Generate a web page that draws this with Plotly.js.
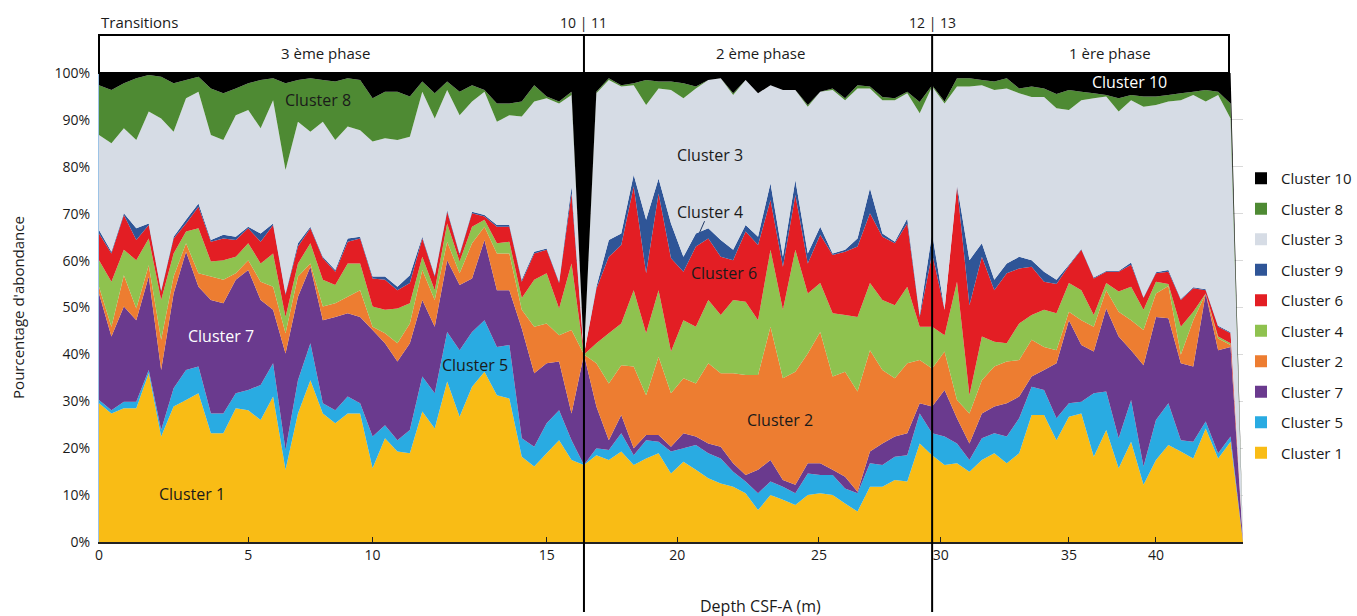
<!DOCTYPE html>
<html>
<head>
<meta charset="utf-8">
<script src="https://cdn.plot.ly/plotly-3.0.1.min.js"></script>
<style>
html,body{margin:0;padding:0;background:#ffffff;}
#chart{width:1357px;height:616px;}
</style>
</head>
<body>
<div id="chart"></div>
<script>
// ---- Data (percent per sample, samples in depth order) ----
const cluster1 = [29.6,27.4,28.5,28.5,36.0,22.5,28.9,30.3,31.7,23.2,
  23.2,28.5,28.1,26.0,31.0,15.4,27.4,34.5,27.4,25.3,
  27.4,27.4,15.7,22.1,19.3,18.9,27.8,24.2,34.2,26.7,
  33.1,36.3,31.3,30.6,18.2,16.1,18.9,21.7,17.5,16.4,
  18.5,17.5,19.3,16.4,17.8,18.9,14.6,17.1,15.4,13.6,
  12.5,11.8,10.4,6.8,10.0,9.0,7.9,10.0,10.4,10.0,
  8.2,6.5,11.8,11.8,13.2,12.9,21.0,18.5,16.4,16.8,
  15.0,17.5,18.9,16.8,18.9,27.1,27.1,21.7,26.7,27.4,
  18.2,23.9,15.7,21.4,12.2,17.5,20.7,19.3,17.8,24.2,
  17.8,21.4,0];
const cluster5 = [0.7,0.7,1.4,1.4,0.7,1.4,3.9,6.4,5.7,4.2,
  4.2,3.2,4.3,7.5,7.1,4.2,7.1,7.9,2.2,2.8,
  3.6,2.2,6.8,2.8,2.4,5.0,7.5,7.5,10.6,14.2,
  11.7,11.0,10.3,11.4,3.9,4.2,6.4,6.4,4.2,0,
  1.5,2.1,3.9,2.1,3.9,2.5,4.7,2.9,5.3,5.3,
  5.3,3.2,2.5,3.6,2.9,2.8,2.5,4.6,3.9,4.3,
  3.2,3.9,5.0,4.6,5.0,5.6,6.4,4.7,6.1,4.2,
  2.5,4.6,4.3,5.7,7.5,6.0,5.3,4.7,2.9,2.5,
  13.5,8.2,6.4,8.9,3.9,8.5,8.9,2.4,3.6,1.5,
  1.1,1.1,0];
const cluster7 = [22.7,15.7,20.3,17.4,19.9,12.8,20.2,25.2,17.0,24.2,
  23.5,24.2,25.6,18.1,11.4,20.6,17.8,16.3,17.7,19.9,
  17.8,18.4,22.7,17.5,16.8,18.5,16.3,14.2,15.3,13.9,
  11.4,17.1,12.1,11.7,23.4,15.7,12.8,10.4,5.7,23.6,
  8.9,2.1,3.9,1.5,1.1,1.4,1.0,3.2,1.8,2.1,
  2.5,1.8,1.4,5.0,4.6,1.4,1.8,2.2,2.5,1.1,
  2.5,0.3,2.5,4.6,4.3,4.7,2.2,5.7,9.9,5.4,
  3.5,5.3,5.7,7.1,4.6,2.2,4.3,11.7,17.7,12.1,
  8.9,17.7,21.7,10.6,21.6,22.0,18.1,16.4,16.0,27.3,
  22.0,19.1,0];
const cluster2 = [1.4,2.1,6.7,2.5,2.4,6.4,3.6,1.8,2.9,5.0,
  5.0,1.4,2.1,3.9,4.9,4.3,4.3,0.7,2.9,2.9,
  3.5,5.7,0.7,2.1,3.9,4.2,6.4,5.7,3.9,2.5,
  7.5,2.8,7.8,7.8,4.0,9.9,8.5,5.6,17.8,0,
  9.2,12.1,10.6,17.4,8.5,16.7,11.4,11.7,11.3,17.1,
  15.7,19.2,21.3,20.2,28.4,21.7,24.1,23.4,28.0,19.9,
  22.4,21.4,21.6,15.7,12.4,14.9,9.2,8.1,8.2,3.9,
  6.4,7.1,8.5,8.9,7.8,7.8,4.9,2.8,1.8,5.3,
  5.3,3.9,5.3,6.4,7.5,5.0,6.9,1.8,9.9,0,
  2.5,0.4,0];
const cluster4 = [5.7,9.6,5.4,10.3,5.7,8.5,4.9,2.5,9.6,3.2,
  4.2,3.5,3.6,3.9,7.1,3.5,2.8,4.3,5.7,3.9,
  7.1,5.7,4.3,5.0,7.4,4.3,2.8,2.1,3.9,2.5,
  3.5,1.5,2.2,2.5,2.5,10.0,10.7,5.7,14.2,0,
  4.3,10.7,8.9,16.3,13.2,14.2,8.9,12.4,12.1,13.5,
  12.4,15.6,15.6,11.7,16.4,14.6,26.0,12.8,10.4,13.5,
  12.1,15.9,14.3,14.9,15.6,16.3,7.1,8.9,3.5,25.2,
  3.9,9.3,5.3,3.9,7.8,5.3,7.9,7.9,6.1,6.4,
  2.5,1.5,4.3,7.1,4.3,2.5,0.4,6.0,1.8,0,
  0.4,0.4,0];
const cluster6 = [5.7,6.0,7.4,4.3,2.9,1.8,3.2,1.7,4.6,4.2,
  4.6,3.6,3.2,4.6,6.1,4.7,3.6,3.2,4.6,2.8,
  4.6,5.3,6.0,6.4,3.9,4.3,3.9,2.9,2.5,1.4,
  2.9,0.7,3.5,3.2,3.5,5.6,5.0,5.4,14.9,0,
  11.6,16.3,16.7,22.1,12.8,20.6,19.9,10.3,17.1,13.1,
  12.4,8.5,15.0,16.0,10.6,9.2,11.7,6.4,10.3,12.4,
  13.5,15.0,14.9,13.5,13.2,13.5,2.1,15.6,5.4,20.3,
  19.2,17.0,11.0,14.9,11.7,10.3,6.0,6.2,3.7,8.6,
  7.8,2.4,4.2,4.7,2.5,1.8,2.6,5.7,5.0,0.7,
  2.1,2.1,0];
const cluster9 = [0.7,0.4,0.4,2.5,0.3,0.3,0.4,0.8,0.7,0.4,
  0.8,0.7,0.3,1.8,0.3,0.3,0.7,0.3,0.3,0.4,
  0.7,0.4,0.4,0.7,0.7,1.7,0.4,0.3,0.4,0.3,
  0.3,0.3,0.4,0.4,0.4,0.4,0.3,0.3,1.5,0,
  0.4,3.6,2.5,2.5,11.4,3.2,7.4,3.2,2.8,2.2,
  3.6,2.2,1.4,1.8,3.6,2.1,3.2,2.1,1.7,0.3,
  0.4,1.7,5.3,0.7,0.3,1.1,0.4,4.3,0,0.3,
  9.6,2.9,2.2,2.1,2.5,1.4,2.1,0.9,0.2,0.2,
  0.2,0.2,0.2,0.5,0.2,0.2,0.4,0.2,0.2,0.2,
  0.2,0.2,0];
const cluster3 = [20.3,23.1,18.1,18.8,23.9,36.6,22.4,25.9,23.8,22.4,
  20.2,25.9,24.9,22.4,26.3,26.3,25.9,20.3,28.8,27.7,
  23.9,22.7,28.8,29.5,31.3,29.5,30.9,33.4,25.6,29.5,
  23.5,26.3,22.0,23.4,34.8,32.0,32.0,38.0,19.5,0,
  41.3,34.1,31.3,19.1,24.5,19.2,28.5,33.8,30.9,31.6,
  34.5,33.0,30.9,30.6,20.9,35.6,19.2,31.3,28.8,34.9,
  31.9,32.0,21.3,28.4,30.2,26.7,43.0,31.3,44.0,21.0,
  37.0,33.7,40.5,37.3,34.9,34.8,37.3,36.6,33.0,31.7,
  38.2,37.2,34.0,34.6,40.6,35.7,35.9,42.4,41.0,40.0,
  49.2,45.6,0];
const cluster8 = [10.6,11.4,9.6,13.2,7.8,8.9,10.3,3.9,3.2,9.9,
  10.0,5.7,5.7,10.3,4.7,18.5,8.9,11.4,8.9,12.5,
  10.3,10.7,9.2,9.9,10.3,8.6,2.2,5.4,1.8,5.0,
  3.5,0.4,3.9,2.5,3.2,3.5,0.4,0.4,0.7,0,
  0.3,0.4,0.3,0.4,5.3,1.5,1.8,3.2,0.4,0,
  0,0.4,0,0,0,0,0,0.4,0,0.3,
  0.4,0.7,0.4,0.7,0.4,0.3,2.4,0.3,0.4,1.8,
  1.8,1.1,1.8,2.2,1.0,2.2,1.8,3.0,4.3,1.8,
  1.1,0.3,2.8,1.1,2.2,1.8,1.4,1.5,0.7,2.5,
  0.7,3.2,0];
const cluster10 = [2.6,3.6,2.2,1.1,0.4,0.8,2.2,1.5,0.8,3.3,
  4.3,3.3,2.2,1.5,1.1,2.2,1.5,1.1,1.5,1.8,
  1.1,1.5,5.4,4.0,4.0,5.0,1.8,4.3,1.8,4.0,
  2.6,3.6,6.5,6.5,6.1,2.6,5.0,6.1,4.0,60.0,
  4.0,1.1,2.6,2.2,1.5,1.8,1.8,2.2,2.9,1.5,
  1.1,4.3,1.5,4.3,2.6,3.6,3.6,6.8,4.0,3.3,
  5.4,2.6,2.9,5.1,5.4,4.0,6.2,2.6,6.1,1.1,
  1.1,1.5,1.8,1.1,3.3,2.9,3.3,4.5,3.6,4.0,
  4.3,4.7,5.4,4.7,5.0,5.0,4.7,4.3,4.0,3.6,
  4.0,6.5,0];

// x-axis: depth tick labels and the sample positions where they sit
const depthTickLabels = ['0','5','10','15','20','25','30','35','40'];
const depthTickSample = [0, 12, 22, 36, 46.5, 57.9, 67.7, 78, 85];

// transitions and phases
const transitionSample = [39, 67];
const transitionLabels = ['10 | 11', '12 | 13'];
const phaseLabels = ['3 ème phase', '2 ème phase', '1 ère phase'];

// stacking order bottom -> top
const stackNames = ['Cluster 1','Cluster 5','Cluster 7','Cluster 2','Cluster 4','Cluster 6','Cluster 9','Cluster 3','Cluster 8','Cluster 10'];
const stackData  = [cluster1, cluster5, cluster7, cluster2, cluster4, cluster6, cluster9, cluster3, cluster8, cluster10];

// ---- Styles ----
const colorOf = {
  'Cluster 1':'#f9bc15','Cluster 5':'#29abe2','Cluster 7':'#6a3a8e','Cluster 2':'#ed7d31',
  'Cluster 4':'#8fc24f','Cluster 6':'#e31e24','Cluster 9':'#2f5597','Cluster 3':'#d6dce5',
  'Cluster 8':'#4e8a33','Cluster 10':'#000000'
};
const FONT = '"Open Sans", "Noto Sans", sans-serif';
const TXT = '#1a1a1a';

const sampleIdx = cluster1.map((_, i) => i);

const traces = stackData.map((vals, k) => ({
  type: 'scatter', mode: 'none', x: sampleIdx, y: vals,
  stackgroup: 'one', fillcolor: colorOf[stackNames[k]], line: {width: 0},
  name: stackNames[k], showlegend: false, hoverinfo: 'skip'
}));

// legend entries (top -> bottom as in the reference)
stackNames.slice().reverse().forEach(n => {
  traces.push({
    type: 'scatter', mode: 'markers', x: [null], y: [null], name: n,
    legendgroup: n, showlegend: true,
    marker: {symbol: 'square', size: 10, color: colorOf[n]}, hoverinfo: 'skip'
  });
});

// pixel helpers for paper coordinates (plot area: x 99..1243, y 73..542)
const L = 99, R = 1243, T = 73, B = 542;
const px = v => (v - L) / (R - L);
const py = v => (B - v) / (B - T);

const shapes = [
  {type:'rect', xref:'paper', yref:'paper', x0:0, x1:px(1229), y0:1, y1:py(35),
   line:{color:'#000', width:2}, fillcolor:'rgba(0,0,0,0)'}
];
transitionSample.forEach(s => shapes.push({
  type:'line', xref:'x', yref:'paper', x0:s, x1:s, y0:py(612), y1:py(35),
  line:{color:'#000', width:2}
}));
// small leader line for the Cluster 4 label
shapes.push({type:'line', xref:'x', yref:'y', x0:48.7, x1:48.3, y0:68.4, y1:66.0,
  line:{color:'#1f3864', width:1}});

const ann = [];
const addText = (o) => ann.push(Object.assign({showarrow:false, font:{family:FONT, size:15, color:TXT}}, o));
addText({text:'Transitions', xref:'paper', yref:'paper', x:0, y:py(22), xanchor:'left', yanchor:'middle'});
transitionSample.forEach((s, k) => addText({text:transitionLabels[k], xref:'x', yref:'paper', x:s, y:py(22), xanchor:'center', yanchor:'middle', font:{family:FONT, size:14, color:TXT}}));
const phaseX = [px(325), px(760), px(1110)];
phaseLabels.forEach((t, k) => addText({text:t, xref:'paper', yref:'paper', x:phaseX[k], y:py(53), xanchor:'center', yanchor:'middle'}));
addText({text:'Depth CSF-A (m)', xref:'paper', yref:'paper', x:px(760), y:py(606), xanchor:'center', yanchor:'middle', font:{family:FONT, size:16, color:TXT}});

const clusterLabels = [
  ['Cluster 8', 17.6, 94.2, TXT], ['Cluster 3', 49.1, 82.5, TXT], ['Cluster 4', 49.1, 70.4, TXT],
  ['Cluster 6', 50.3, 57.4, TXT], ['Cluster 2', 54.8, 26.0, TXT], ['Cluster 7', 9.8, 43.9, '#ffffff'],
  ['Cluster 1', 7.5, 10.2, TXT], ['Cluster 5', 30.2, 37.7, TXT], ['Cluster 10', 82.9, 98.1, '#ffffff']
];
clusterLabels.forEach(c => addText({text:c[0], xref:'x', yref:'y', x:c[1], y:c[2], xanchor:'center', yanchor:'middle', font:{family:FONT, size:16, color:c[3]}}));

const layout = {
  width: 1357, height: 616,
  margin: {l: L, r: 1357 - R, t: T, b: 616 - B, pad: 0, autoexpand: false},
  paper_bgcolor: '#ffffff', plot_bgcolor: '#ffffff',
  font: {family: FONT, color: TXT},
  showlegend: true,
  legend: {x: px(1241), xanchor: 'left', y: py(162), yanchor: 'top',
           font: {family: FONT, size: 15, color: TXT}, traceorder: 'grouped',
           tracegroupgap: 8, itemsizing: 'constant', bgcolor: 'rgba(0,0,0,0)'},
  xaxis: {range: [0, sampleIdx.length - 1], tickmode: 'array', tickvals: depthTickSample, ticktext: depthTickLabels,
          ticks: 'inside', ticklen: 5, tickcolor: '#222', tickwidth: 1,
          showline: true, linecolor: '#222', linewidth: 1.5, showgrid: false, zeroline: false,
          tickfont: {family: FONT, size: 14, color: TXT}, fixedrange: true},
  yaxis: {range: [0, 100], tickmode: 'linear', tick0: 0, dtick: 10, ticksuffix: '%',
          showgrid: true, gridcolor: '#d9d9d9', gridwidth: 1, zeroline: false,
          showline: true, linecolor: '#9dc3e6', linewidth: 1, ticks: '', ticklabelstandoff: 5,
          tickfont: {family: FONT, size: 14, color: TXT}, fixedrange: true,
          title: {text: "Pourcentage d'abondance", font: {family: FONT, size: 15, color: TXT}, standoff: 26}},
  shapes: shapes,
  annotations: ann
};

Plotly.newPlot('chart', traces, layout, {displayModeBar: false, staticPlot: true});
</script>
</body>
</html>
